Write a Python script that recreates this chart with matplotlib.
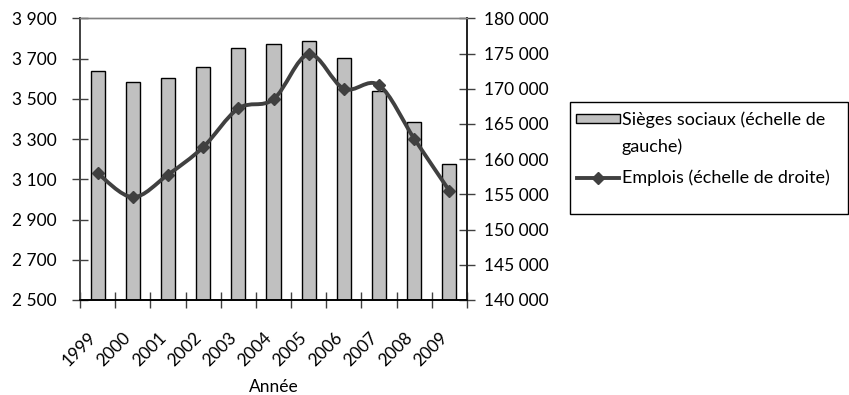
import matplotlib
matplotlib.use('Agg')
import matplotlib.pyplot as plt
import numpy as np
from matplotlib.path import Path
from matplotlib.patches import PathPatch, Rectangle
from matplotlib.lines import Line2D
from matplotlib.ticker import FuncFormatter
from matplotlib.transforms import ScaledTranslation

# data
years = ['1999', '2000', '2001', '2002', '2003', '2004', '2005', '2006', '2007', '2008', '2009']
sieges = [3637, 3584, 3604, 3657, 3750, 3773, 3786, 3703, 3538, 3384, 3174]
emplois = [158000, 154600, 157800, 161700, 167200, 168500, 174900, 170000, 170500, 162900, 155500]

plt.rcParams['font.family'] = ['Lato', 'DejaVu Sans']
plt.rcParams['font.size'] = 12.5

line_col = '#404040'
W, H = 849, 395

fig = plt.figure(figsize=(W / 100, H / 100), dpi=100)
ax = fig.add_axes([80 / W, 1 - 300 / H, (467 - 80) / W, (300 - 18.3) / H])
ax2 = ax.twinx()

x = np.arange(len(years))
ax.bar(x, sieges, width=0.4, color='#c0c0c0', edgecolor='black', linewidth=1.0, zorder=2)

# smoothed line (Excel style bezier through the points)
pts = np.column_stack([x, emplois]).astype(float)
verts = [tuple(pts[0])]
codes = [Path.MOVETO]
n = len(pts)
for i in range(n - 1):
    p0 = pts[i - 1] if i > 0 else pts[i]
    p1 = pts[i]
    p2 = pts[i + 1]
    p3 = pts[i + 2] if i + 2 < n else pts[i + 1]
    c1 = p1 + (p2 - p0) / 6.0
    c2 = p2 - (p3 - p1) / 6.0
    verts += [tuple(c1), tuple(c2), tuple(p2)]
    codes += [Path.CURVE4] * 3
ax2.add_patch(PathPatch(Path(verts, codes), facecolor='none', edgecolor=line_col,
                        linewidth=2.8, capstyle='round', joinstyle='round', zorder=3))
ax2.plot(x, emplois, linestyle='none', marker='D', markersize=6, color=line_col, zorder=4)

ax.set_xlim(-0.5, len(years) - 0.5)
ax.set_ylim(2500, 3900)
ax2.set_ylim(140000, 180000)
ax.set_yticks(np.arange(2500, 3901, 200))
ax2.set_yticks(np.arange(140000, 180001, 5000))

fmt = FuncFormatter(lambda v, p: f"{int(v):,}".replace(',', ' '))
ax.yaxis.set_major_formatter(fmt)
ax2.yaxis.set_major_formatter(fmt)

ax.set_xticks(x)
ax.set_xticklabels(years, rotation=45, ha='right', rotation_mode='anchor')
ax.set_xticks(np.arange(-0.5, len(years)), minor=True)
ax.tick_params(axis='x', which='major', length=0, pad=21)
ax.tick_params(axis='x', which='minor', direction='inout', length=12, width=1, color='#404040')
for lbl in ax.get_xticklabels():
    lbl.set_transform(lbl.get_transform() + ScaledTranslation(-10 / 100, 0, fig.dpi_scale_trans))

ax.tick_params(axis='y', direction='inout', length=12, width=1, color='#404040', pad=11)
ax2.tick_params(axis='y', direction='inout', length=12, width=1, color='#404040', pad=6)

for a in (ax, ax2):
    a.spines['top'].set_color('#808080')
    a.spines['top'].set_linewidth(1)
    a.spines['left'].set_color('#404040')
    a.spines['right'].set_color('#202020')
    a.spines['bottom'].set_color('black')
    a.spines['left'].set_linewidth(1.2)
    a.spines['right'].set_linewidth(1.2)
    a.spines['bottom'].set_linewidth(1.2)

# legend and axis title placed by pixel position to match the Excel layout
def fx(px):
    return px / W

def fy(py):
    return 1 - py / H

fig.text(fx(274), fy(387), 'Année', ha='center', va='center')

fig.patches.append(Rectangle((fx(570), fy(214)), fx(848) - fx(570), fy(102) - fy(214),
                             transform=fig.transFigure, facecolor='white', edgecolor='black',
                             linewidth=1.0))
fig.patches.append(Rectangle((fx(576), fy(123)), fx(620) - fx(576), fy(114) - fy(123),
                             transform=fig.transFigure, facecolor='#c0c0c0', edgecolor='black',
                             linewidth=1.0))
fig.lines.append(Line2D([fx(577), fx(619)], [fy(178), fy(178)], transform=fig.transFigure,
                        color=line_col, linewidth=2.8))
fig.lines.append(Line2D([fx(598)], [fy(178)], transform=fig.transFigure,
                        color=line_col, marker='D', markersize=6, linestyle='none'))
fig.text(fx(622), fy(120), 'Sièges sociaux (échelle de', ha='left', va='center', fontsize=13)
fig.text(fx(622), fy(147), 'gauche)', ha='left', va='center', fontsize=13)
fig.text(fx(622), fy(178), 'Emplois (échelle de droite)', ha='left', va='center', fontsize=13)

fig.savefig('out.png', dpi=100)
